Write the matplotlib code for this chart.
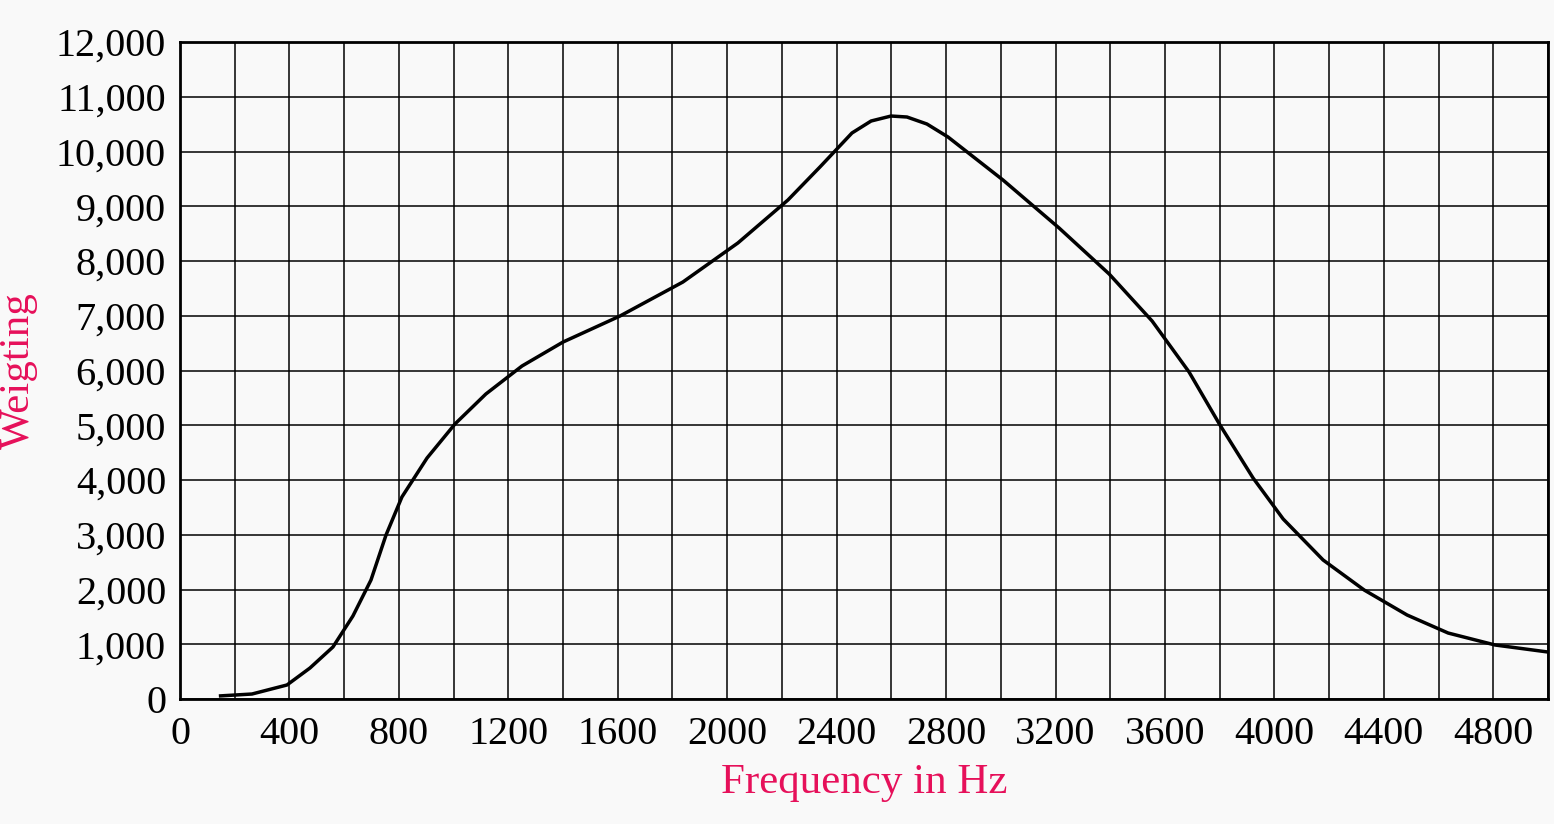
import matplotlib
matplotlib.use("Agg")
import matplotlib.pyplot as plt
from matplotlib.ticker import MultipleLocator, FuncFormatter

freq = [142, 263, 391, 475, 559, 632, 698, 753, 811, 903, 1005, 1118, 1250, 1400,
        1608, 1838, 2039, 2222, 2339, 2456, 2526, 2599, 2657, 2730, 2807, 3008,
        3213, 3396, 3553, 3688, 3801, 3922, 4032, 4178, 4328, 4485, 4635, 4807, 5000]
weight = [55, 91, 256, 566, 950, 1516, 2173, 2995, 3689, 4402, 5023, 5571, 6082, 6520,
          6995, 7616, 8329, 9114, 9717, 10338, 10557, 10648, 10630, 10502, 10265, 9479,
          8603, 7763, 6904, 5973, 5005, 4037, 3288, 2539, 1991, 1534, 1205, 986, 858]
x_ticks = [0, 400, 800, 1200, 1600, 2000, 2400, 2800, 3200, 3600, 4000, 4400, 4800]
x_label = "Frequency in Hz"
y_label = "Weigting"

bg = "#F9F9F9"
accent = "#E6105A"
plt.rcParams['font.family'] = ['Liberation Serif', 'DejaVu Serif']

fig = plt.figure(figsize=(15.54, 8.24), dpi=100, facecolor=bg)
ax = fig.add_axes([180/1554, 1-699/824, (1548-180)/1554, (699-42)/824])
ax.set_facecolor(bg)
ax.plot(freq, weight, color="black", lw=2.5, solid_capstyle='butt', zorder=3)
ax.set_xlim(0, 5000)
ax.set_ylim(0, 12000)
ax.xaxis.set_minor_locator(MultipleLocator(200))
ax.set_xticks(x_ticks)
ax.yaxis.set_major_locator(MultipleLocator(1000))
ax.grid(True, which='both', color='black', lw=1.1)
ax.tick_params(which='both', length=0)
ax.tick_params(axis='x', pad=12, labelsize=29)
ax.tick_params(axis='y', pad=10, labelsize=29)
ax.yaxis.set_major_formatter(FuncFormatter(lambda v, p: f"{int(v):,}"))
for s in ax.spines.values():
    s.set_linewidth(2.0)
    s.set_color('black')
ax.set_xlabel(x_label, color=accent, fontsize=31, labelpad=8)
ax.set_ylabel(y_label, color=accent, fontsize=31)
ax.yaxis.set_label_coords((38-180)/1368, 0.5)
fig.savefig("out.png", dpi=100, facecolor=bg)
